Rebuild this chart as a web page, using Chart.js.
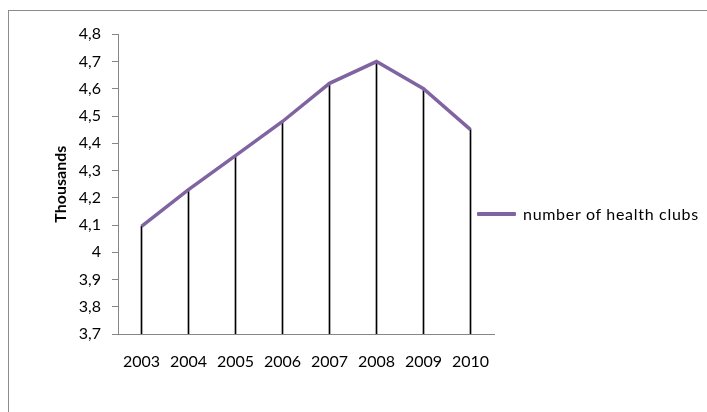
<!DOCTYPE html>
<html>
<head>
<meta charset="utf-8">
<script src="https://cdn.jsdelivr.net/npm/chart.js@4"></script>
<style>
  html, body { margin: 0; padding: 0; background: #fff; }
  #wrap { position: relative; width: 707px; height: 412px; overflow: hidden; font-family: Lato, "Open Sans", sans-serif; }
  #frame { position: absolute; left: 8px; top: 10px; width: 720px; height: 420px;
           border-left: 1px solid #8c8c8c; border-top: 1px solid #8c8c8c; }
  #grafico { position: absolute; left: 0; top: 0; }
  #legenda { position: absolute; left: 477px; top: 203px; height: 22px; line-height: 22px;
             font-size: 16px; letter-spacing: 0.7px; color: #000; white-space: nowrap; margin: 0; padding: 0; list-style: none; }
  #legenda li { display: flex; align-items: center; height: 22px; }
  #legenda .marca { display: inline-block; width: 39px; height: 4px; margin-right: 7px; border-radius: 1px; }
</style>
</head>
<body>
<div id="wrap">
  <div id="frame"></div>
  <canvas id="grafico" width="707" height="412"></canvas>
  <ul id="legenda"></ul>
</div>
<script>
// ========== Dados ==========

const anos = ['2003', '2004', '2005', '2006', '2007', '2008', '2009', '2010'];
const clubes = [4.095, 4.23, 4.355, 4.48, 4.62, 4.70, 4.60, 4.45]; // milhares
const rotuloSerie = 'number of health clubs';
const rotuloEixoY = 'Thousands';
const ticksY = ['3,7', '3,8', '3,9', '4', '4,1', '4,2', '4,3', '4,4', '4,5', '4,6', '4,7', '4,8'];
const minY = 3.7;
const maxY = 4.8;

const roxo = '#8064A2';
const cinza = '#868686';
const fonte = 'Lato, "Open Sans", sans-serif';

// ========== Gráfico ==========

function desenharGrafico() {
  const ctx = document.getElementById('grafico');

  window.chartInstance = new Chart(ctx, {
    type: 'line',
    data: {
      labels: anos,
      datasets: [
        {
          label: rotuloSerie,
          data: clubes,
          borderColor: roxo,
          backgroundColor: roxo,
          borderWidth: 3.5,
          pointRadius: 0,
          tension: 0,
          fill: false,
          order: 0
        },
        {
          // linhas de queda (drop lines)
          type: 'bar',
          label: 'drop',
          data: clubes,
          backgroundColor: '#000',
          barThickness: 1,
          order: 1
        }
      ]
    },
    options: {
      responsive: false,
      animation: false,
      layout: { padding: { left: 0, top: 34.3, right: 213, bottom: 0 } },
      plugins: {
        tooltip: { enabled: false },
        legend: { display: false }
      },
      scales: {
        x: {
          offset: true,
          grid: { display: false, drawTicks: false },
          border: { display: true, color: cinza, width: 1 },
          ticks: { color: '#000', padding: 18, maxRotation: 0, font: { family: fonte, size: 16 } },
          afterFit: scale => { scale.height = 78; }
        },
        y: {
          min: minY,
          max: maxY,
          grid: { drawOnChartArea: false, drawTicks: true, tickLength: 6, color: cinza },
          border: { display: true, color: cinza, width: 1 },
          ticks: {
            stepSize: 0.1,
            padding: 11,
            color: '#000',
            font: { family: fonte, size: 16 },
            callback: (val, i) => ticksY[i]
          },
          title: {
            display: true,
            text: rotuloEixoY,
            color: '#000',
            font: { family: fonte, size: 16, weight: 'bold' },
            padding: { top: 51, bottom: 0 }
          },
          afterFit: scale => { scale.width = 118; }
        }
      }
    }
  });

  montarLegenda(window.chartInstance);
}

// Legenda em HTML, montada a partir dos itens do próprio gráfico
function montarLegenda(chart) {
  const lista = document.getElementById('legenda');
  lista.innerHTML = '';

  const itens = chart.options.plugins.legend.labels.generateLabels(chart)
    .filter(item => item.datasetIndex === 0);

  itens.forEach(item => {
    const li = document.createElement('li');
    li.innerHTML = `<span class="marca" style="background:${item.strokeStyle}"></span>${item.text}`;
    lista.appendChild(li);
  });
}

desenharGrafico();
</script>
</body>
</html>
